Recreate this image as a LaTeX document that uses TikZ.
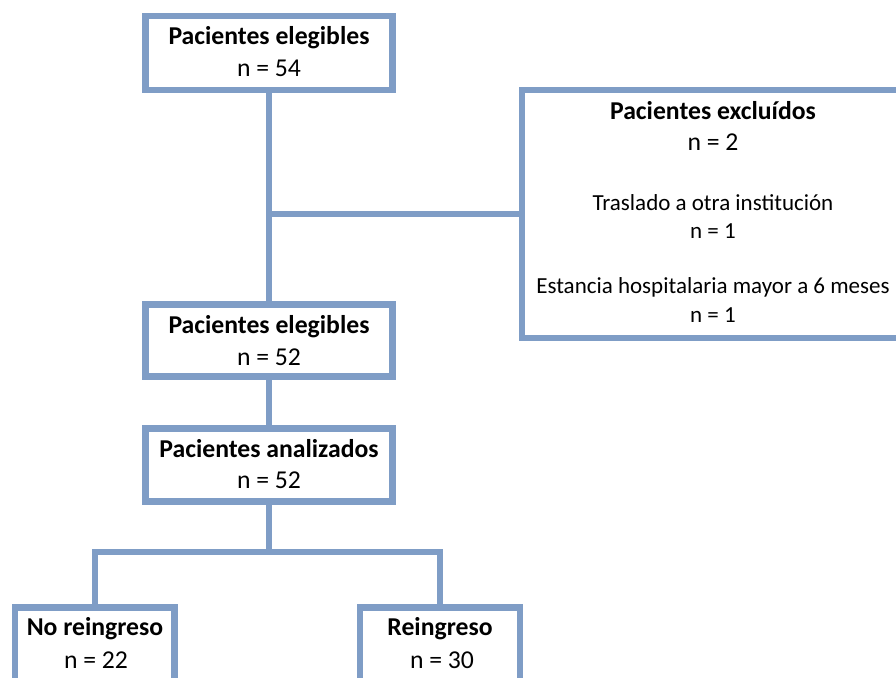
\documentclass[tikz,border=0pt]{standalone}
\usepackage{fontspec}
\setmainfont{Carlito}
\definecolor{boxblue}{HTML}{7F9DC6}
\begin{document}
\begin{tikzpicture}[x=1pt,y=-1pt,
  box/.style={draw=boxblue,line width=6.5pt,fill=white,rectangle,inner sep=0pt},
  conn/.style={draw=boxblue,line width=6.5pt},
  hd/.style={anchor=base,inner sep=0pt,font=\fontsize{25.7}{30}\selectfont\bfseries},
  nn/.style={anchor=base,inner sep=0pt,font=\fontsize{25.7}{30}\selectfont},
  sm/.style={anchor=base,inner sep=0pt,font=\fontsize{23}{28}\selectfont}]
\useasboundingbox (0,0) rectangle (896,677);
\clip (0,0) rectangle (896,677);
% boxes
\node[box,minimum width=247pt,minimum height=74pt] (b1) at (269,53) {};
\node[box,minimum width=247pt,minimum height=72pt] (b2) at (269,340.5) {};
\node[box,minimum width=247pt,minimum height=73pt] (b3) at (269,465) {};
\node[box,minimum width=382pt,minimum height=248pt] (ex) at (713,214) {};
\node[box,minimum width=159.5pt,minimum height=140pt] (no) at (94.75,677.5) {};
\node[box,minimum width=160pt,minimum height=140pt] (re) at (440,677.5) {};
% connectors
\coordinate (br) at (269,214);
\coordinate (j) at (269,552);
\draw[conn] (b1.south) -- (b2.north);
\draw[conn] (br) -- (ex.west);
\draw[conn] (b2.south) -- (b3.north);
\draw[conn] (b3.south) -- (j);
\draw[conn] (no.north) |- (j) -| (re.north);
% texts
\node[hd] (t1a) at (269,45) {Pacientes elegibles};
\node[nn] (t1b) at (269,77) {n = 54};
\node[hd] (tea) at (713,119) {Pacientes excluídos};
\node[nn] (teb) at (713,150) {n = 2};
\node[sm] (tec) at (713,210) {Traslado a otra institución};
\node[sm] (ted) at (713,238) {n = 1};
\node[sm] (tee) at (713,293) {Estancia hospitalaria mayor a 6 meses};
\node[sm] (tef) at (713,322) {n = 1};
\node[hd] (t2a) at (269,333) {Pacientes elegibles};
\node[nn] (t2b) at (269,365) {n = 52};
\node[hd] (t3a) at (269,457) {Pacientes analizados};
\node[nn] (t3b) at (269,488) {n = 52};
\node[hd] (t4a) at (95,635) {No reingreso};
\node[nn] (t4b) at (96,668) {n = 22};
\node[hd] (t5a) at (440,635) {Reingreso};
\node[nn] (t5b) at (442,668) {n = 30};
\end{tikzpicture}
\end{document}
